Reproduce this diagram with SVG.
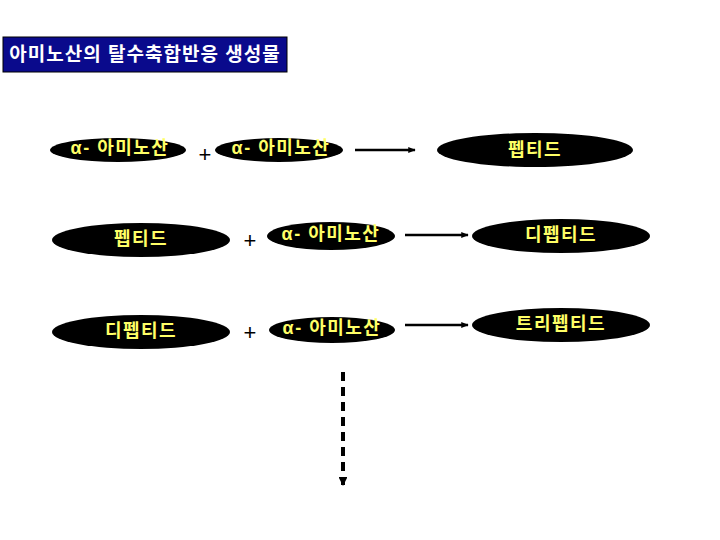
<svg xmlns="http://www.w3.org/2000/svg" width="720" height="540" viewBox="0 0 720 540">
<style>
.node ellipse{fill:#000}
.lbl{font-family:"Liberation Sans","Noto Sans CJK KR",sans-serif;font-size:18px;font-weight:bold;letter-spacing:1.5px;fill:#ffff66;text-anchor:middle;dominant-baseline:central}
.plus{font-family:"Liberation Sans",sans-serif;font-size:22px;fill:#000;text-anchor:middle;dominant-baseline:central}
.arr{stroke:#000;stroke-width:2.5;fill:none}
</style>
<defs>
<marker id="ah" viewBox="0 0 10 10" refX="9" refY="5" markerWidth="3" markerHeight="3" orient="auto" markerUnits="strokeWidth"><path d="M0,1 L10,5 L0,9 z" fill="#000"/></marker>
<marker id="ah2" viewBox="0 0 10 10" refX="9" refY="5" markerWidth="2.2" markerHeight="2.2" orient="auto" markerUnits="strokeWidth"><path d="M0,0 L10,5 L0,10 z" fill="#000"/></marker>
</defs>
<g id="title">
<rect x="3" y="37" width="284" height="35" fill="#0a0a8c" stroke="#000" stroke-width="1"/>
<text x="145" y="54" font-family="Liberation Sans,'Noto Sans CJK KR',sans-serif" font-size="19" font-weight="bold" letter-spacing="1" fill="#fff" text-anchor="middle" dominant-baseline="central">아미노산의 탈수축합반응 생성물</text>
</g>
<g id="n1" class="node"><ellipse cx="118" cy="150" rx="68" ry="12"/><text class="lbl" x="120" y="148">α- 아미노산</text></g>
<text class="plus" x="205" y="154">+</text>
<g id="n2" class="node"><ellipse cx="279" cy="150" rx="64" ry="12"/><text class="lbl" x="281" y="148">α- 아미노산</text></g>
<g id="n3" class="node"><ellipse cx="535" cy="150" rx="98" ry="17"/><text class="lbl" x="535" y="150">펩티드</text></g>
<g id="n4" class="node"><ellipse cx="141" cy="240" rx="89" ry="17"/><text class="lbl" x="141" y="239">펩티드</text></g>
<text class="plus" x="250" y="240">+</text>
<g id="n5" class="node"><ellipse cx="331" cy="236" rx="64" ry="14"/><text class="lbl" x="331" y="234">α- 아미노산</text></g>
<g id="n6" class="node"><ellipse cx="561" cy="236" rx="89" ry="17"/><text class="lbl" x="561" y="235">디펩티드</text></g>
<g id="n7" class="node"><ellipse cx="141" cy="332" rx="89" ry="17"/><text class="lbl" x="141" y="331">디펩티드</text></g>
<text class="plus" x="250" y="332">+</text>
<g id="n8" class="node"><ellipse cx="332" cy="330" rx="63" ry="13"/><text class="lbl" x="332" y="328">α- 아미노산</text></g>
<g id="n9" class="node"><ellipse cx="561" cy="325" rx="89" ry="17"/><text class="lbl" x="561" y="324">트리펩티드</text></g>
<g id="connectors">
<line class="arr" x1="355" y1="150" x2="415" y2="150" marker-end="url(#ah)"/>
<line class="arr" x1="405" y1="235" x2="468" y2="235" marker-end="url(#ah)"/>
<line class="arr" x1="405" y1="325" x2="468" y2="325" marker-end="url(#ah)"/>
<line x1="343" y1="372" x2="343" y2="485" stroke="#000" stroke-width="4" stroke-dasharray="9 6" marker-end="url(#ah2)"/>
</g>
</svg>
